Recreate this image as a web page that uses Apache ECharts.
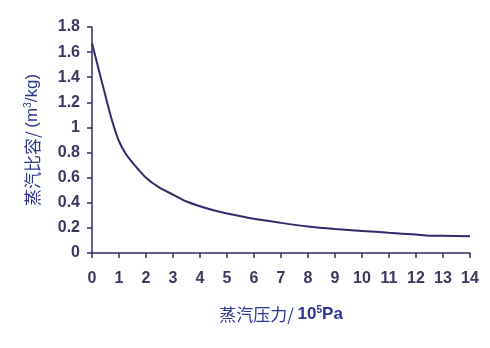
<!DOCTYPE html>
<html><head><meta charset="utf-8">
<script src="https://cdn.jsdelivr.net/npm/echarts@6/dist/echarts.min.js"></script>
<style>html,body{margin:0;padding:0;background:#fff}#c{width:490px;height:348px}</style>
</head><body><div id="c"></div>
<script>
const pressure = [0, 0.25, 0.5, 0.75, 1, 1.25, 1.5, 2, 2.5, 3, 3.5, 4, 4.5, 5, 6, 7, 8, 9, 10, 11, 12, 12.5, 13, 14];
const volume   = [1.67, 1.46, 1.25, 1.05, 0.89, 0.79, 0.72, 0.60, 0.52, 0.465, 0.41, 0.372, 0.34, 0.315, 0.272, 0.24, 0.212, 0.192, 0.176, 0.161, 0.147, 0.138, 0.137, 0.134];
const xTicks = [0,1,2,3,4,5,6,7,8,9,10,11,12,13,14];
const yTicks = ['0','0.2','0.4','0.6','0.8','1','1.2','1.4','1.6','1.8'];

const axisColor = '#2f2b66';
const labelColor = '#3a3860';
const nameColor = '#2c3591';
const chart = echarts.init(document.getElementById('c'));
chart.setOption({
  backgroundColor: '#fff',
  animation: false,
  grid: {left: 92, right: 20, top: 27, bottom: 95},
  xAxis: {
    type: 'value', min: 0, max: 14, interval: 1,
    splitLine: {show: false},
    axisLine: {lineStyle: {color: axisColor, width: 1.5}},
    axisTick: {length: 5, lineStyle: {color: axisColor, width: 1.5}},
    axisLabel: {color: labelColor, fontSize: 16, fontWeight: 'bold', fontFamily: 'Liberation Sans', margin: 18,
      formatter: v => xTicks.includes(v) ? String(v) : ''},
    name: '{c|蒸汽压力/ }{b|10}{s|5}{b|Pa}',
    nameLocation: 'middle', nameGap: 52,
    nameTextStyle: {rich: {
      c: {color: nameColor, fontSize: 17, fontFamily: 'Noto Sans CJK SC'},
      b: {color: nameColor, fontSize: 17, fontWeight: 'bold', fontFamily: 'Liberation Sans'},
      s: {color: nameColor, fontSize: 10, fontWeight: 'bold', fontFamily: 'Liberation Sans', verticalAlign: 'top', padding: [0,0,9,0]}
    }}
  },
  yAxis: {
    type: 'value', min: 0, max: 1.8, interval: 0.2,
    splitLine: {show: false},
    axisLine: {show: true, lineStyle: {color: axisColor, width: 1.5}},
    axisTick: {show: true, length: 5, lineStyle: {color: axisColor, width: 1.5}},
    axisLabel: {color: labelColor, fontSize: 16, fontWeight: 'bold', fontFamily: 'Liberation Sans', margin: 12,
      formatter: v => yTicks[Math.round(v / 0.2)]},
    name: '{c|蒸汽比容/ }{b|(m}{s|3}{b|/kg)}',
    nameLocation: 'middle', nameGap: 50, nameRotate: 90,
    nameTextStyle: {rich: {
      c: {color: nameColor, fontSize: 17, fontFamily: 'Noto Sans CJK SC'},
      b: {color: nameColor, fontSize: 17, fontFamily: 'Liberation Sans'},
      s: {color: nameColor, fontSize: 10, fontFamily: 'Liberation Sans', verticalAlign: 'top', padding: [0,0,9,0]}
    }}
  },
  series: [{
    type: 'line',
    data: pressure.map((p, i) => [p, volume[i]]),
    showSymbol: false,
    smooth: 0.3,
    lineStyle: {color: '#2e2a6e', width: 2}
  }]
});
</script></body></html>
